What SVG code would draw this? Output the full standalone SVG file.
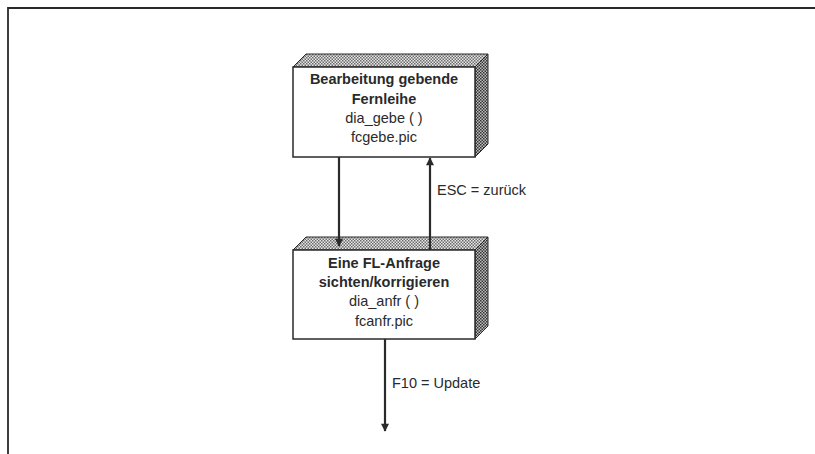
<svg xmlns="http://www.w3.org/2000/svg" width="815" height="454" viewBox="0 0 815 454">
<defs>
<pattern id="chkTop" width="3" height="3" patternUnits="userSpaceOnUse">
<rect width="3" height="3" fill="#e8e8e8"/>
<rect width="1.5" height="1.5" fill="#6a6a6a"/>
<rect x="1.5" y="1.5" width="1.5" height="1.5" fill="#6a6a6a"/>
</pattern>
<pattern id="chkSide" width="3" height="3" patternUnits="userSpaceOnUse">
<rect width="3" height="3" fill="#bdbdbd"/>
<rect width="1.5" height="1.5" fill="#333"/>
<rect x="1.5" y="1.5" width="1.5" height="1.5" fill="#333"/>
</pattern>
<marker id="ahL" viewBox="0 0 10 10" refX="9" refY="5" markerWidth="12" markerHeight="8" markerUnits="userSpaceOnUse" orient="auto">
<path d="M0,0 L10,5 L0,10 z" fill="#2a2a2a"/>
</marker>
</defs>
<style>
.front{fill:#fff;stroke:#2a2a2a;stroke-width:1.5}
.top{fill:url(#chkTop);stroke:#2a2a2a;stroke-width:1}
.side{fill:url(#chkSide);stroke:#2a2a2a;stroke-width:1}
.t{font-family:"Liberation Sans",Arial,sans-serif;font-size:14.5px;fill:#2a2a2a;text-anchor:middle}
.b{font-weight:bold}
.lbl{font-family:"Liberation Sans",Arial,sans-serif;font-size:14.5px;fill:#2a2a2a}
.con{stroke:#2a2a2a;stroke-width:2.2;fill:none}
</style>
<rect width="815" height="454" fill="#fff"/>
<g id="frame">
<path d="M8,454 L8,8 L815,8" fill="none" stroke="#2a2a2a" stroke-width="1.8"/>
</g>
<g id="node-gebe">
<polygon class="top" points="293,67 306,54 488,54 475,67"/>
<polygon class="side" points="475,67 488,54 488,144 475,157"/>
<rect class="front" x="293" y="67" width="182" height="90"/>
<text class="t b" x="384" y="84">Bearbeitung gebende</text>
<text class="t b" x="384" y="104">Fernleihe</text>
<text class="t" x="384" y="123">dia_gebe ( )</text>
<text class="t" x="384" y="142">fcgebe.pic</text>
</g>
<g id="node-anfr">
<polygon class="top" points="293,250 306,237 488,237 475,250"/>
<polygon class="side" points="475,250 488,237 488,326 475,339"/>
<rect class="front" x="293" y="250" width="182" height="89"/>
<text class="t b" x="384" y="268">Eine FL-Anfrage</text>
<text class="t b" x="384" y="287">sichten/korrigieren</text>
<text class="t" x="384" y="306">dia_anfr ( )</text>
<text class="t" x="384" y="326">fcanfr.pic</text>
</g>
<g id="connectors">
<line class="con" x1="339" y1="157" x2="339" y2="246" marker-end="url(#ahL)"/>
<line class="con" x1="430" y1="250" x2="430" y2="158" marker-end="url(#ahL)"/>
<line class="con" x1="385" y1="339" x2="385" y2="431" marker-end="url(#ahL)"/>
<text class="lbl" x="437" y="195">ESC = zurück</text>
<text class="lbl" x="392" y="388">F10 = Update</text>
</g>
</svg>
